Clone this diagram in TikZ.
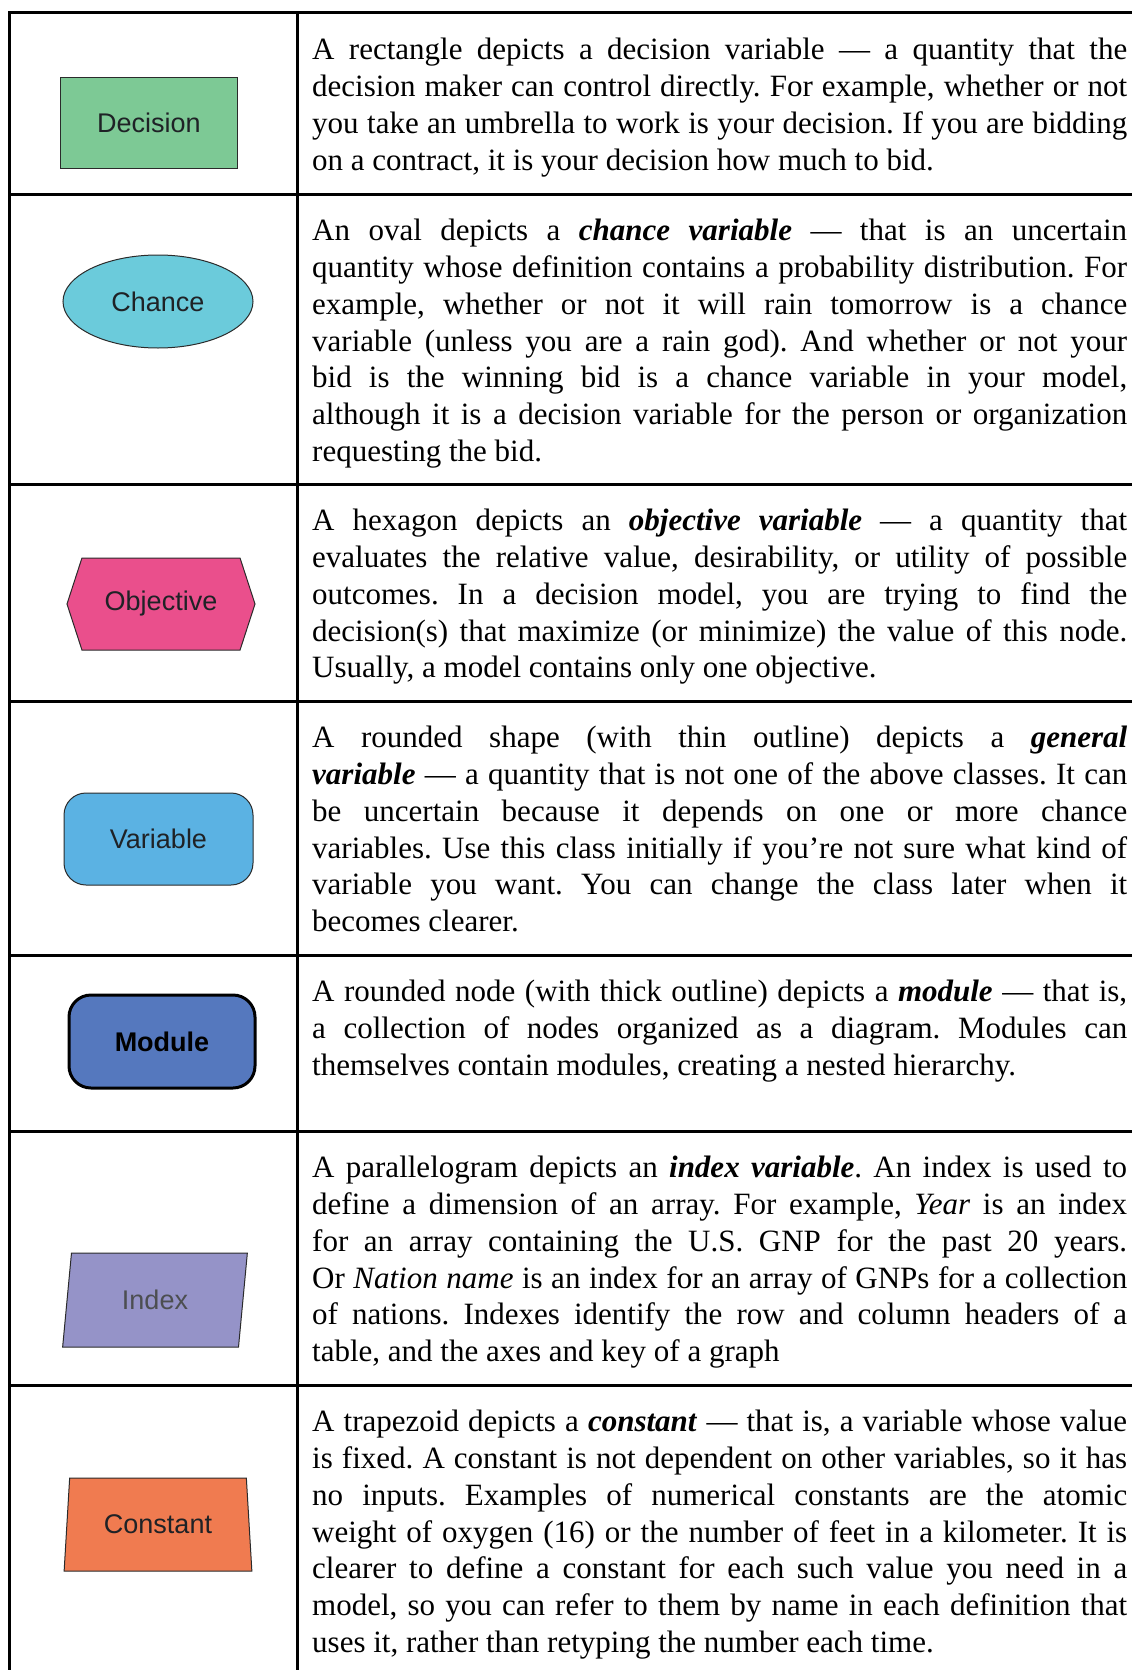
\documentclass[tikz,border=0pt]{standalone}
\usepackage{fontspec}
\setmainfont{Liberation Serif}
\newfontfamily\labelfont{Liberation Sans}
\usetikzlibrary{shapes.geometric,shapes.symbols}

\definecolor{decisiongreen}{HTML}{7DC995}
\definecolor{chancecyan}{HTML}{6BCBDB}
\definecolor{objectivepink}{HTML}{EA4F8C}
\definecolor{variableblue}{HTML}{5BB2E3}
\definecolor{moduleblue}{HTML}{5578BE}
\definecolor{indexviolet}{HTML}{9593C8}
\definecolor{constantorange}{HTML}{F07B50}
\definecolor{edgegrey}{HTML}{2B2B2B}
\definecolor{labelgrey}{HTML}{1F2226}

\frenchspacing
\hyphenpenalty=10000
\tolerance=10000

\begin{document}
\begin{tikzpicture}[x=1pt, y=-1pt,
	rule/.style={line width=3pt, line cap=rect},
	kind/.style={draw=edgegrey, line width=1pt, inner sep=0pt, text=labelgrey, font=\labelfont\fontsize{27}{30}\selectfont},
	desc/.style={anchor=north west, inner sep=0pt, text width=815pt, align=justify, font=\fontsize{31}{36.8}\selectfont}]
	\useasboundingbox (0,0) rectangle (1132,1670);
	\draw[rule] (9,1670) -- (9,13) -- (1132,13);
	\draw[rule] (297,13) -- (297,1670);
	\foreach \y in {194,484,701,955,1131,1385}
		\draw[rule] (9,\y) -- (1132,\y);

	\node[kind, rectangle, fill=decisiongreen, minimum width=177pt, minimum height=91pt] (decision) at (149,123) {Decision};
	\node[kind, ellipse, fill=chancecyan, minimum width=190pt, minimum height=93pt] (chance) at (158,301.5) {Chance};
	\node[kind, signal, signal to=east and west, signal pointer angle=144, fill=objectivepink, minimum width=188pt, minimum height=92pt] (objective) at (161,604) {Objective};
	\node[kind, rectangle, rounded corners=22pt, fill=variableblue, minimum width=189pt, minimum height=92pt] (variable) at (158.5,839) {Variable};
	\node[kind, rectangle, rounded corners=22pt, draw=black, line width=3pt, text=black, font=\labelfont\bfseries\fontsize{27}{30}\selectfont, fill=moduleblue, minimum width=186pt, minimum height=93pt] (module) at (162,1041.5) {Module};
	\node[kind, trapezium, trapezium left angle=80, trapezium right angle=100, trapezium stretches=true, fill=indexviolet, text=labelgrey!80, minimum width=186pt, minimum height=94pt] (index) at (155,1300) {Index};
	\node[kind, trapezium, trapezium left angle=80, trapezium right angle=80, trapezium stretches=true, fill=constantorange, minimum width=188pt, minimum height=93pt] (constant) at (158,1524.5) {Constant};

	\node[desc] (decisiontext) at (312,38) {A rectangle depicts a decision variable — a quantity that the\linebreak
		decision maker can control directly. For example, whether or not\linebreak
		you take an umbrella to work is your decision. If you are bidding\linebreak
		on a contract, it is your decision how much to bid.};
	\node[desc] (chancetext) at (312,219) {An oval depicts a \textbf{\textit{chance variable}} — that is an uncertain\linebreak
		quantity whose definition contains a probability distribution. For\linebreak
		example, whether or not it will rain tomorrow is a chance\linebreak
		variable (unless you are a rain god). And whether or not your\linebreak
		bid is the winning bid is a chance variable in your model,\linebreak
		although it is a decision variable for the person or organization\linebreak
		requesting the bid.};
	\node[desc] (objectivetext) at (312,509) {A hexagon depicts an \textbf{\textit{objective variable}} — a quantity that\linebreak
		evaluates the relative value, desirability, or utility of possible\linebreak
		outcomes. In a decision model, you are trying to find the\linebreak
		decision(s) that maximize (or minimize) the value of this node.\linebreak
		Usually, a model contains only one objective.};
	\node[desc] (variabletext) at (312,726) {A rounded shape (with thin outline) depicts a \textbf{\textit{general}}\linebreak
		\textbf{\textit{variable}} — a quantity that is not one of the above classes. It can\linebreak
		be uncertain because it depends on one or more chance\linebreak
		variables. Use this class initially if you’re not sure what kind of\linebreak
		variable you want. You can change the class later when it\linebreak
		becomes clearer.};
	\node[desc] (moduletext) at (312,980) {A rounded node (with thick outline) depicts a \textbf{\textit{module}} — that is,\linebreak
		a collection of nodes organized as a diagram. Modules can\linebreak
		themselves contain modules, creating a nested hierarchy.};
	\node[desc] (indextext) at (312,1156) {A parallelogram depicts an \textbf{\textit{index variable}}. An index is used to\linebreak
		define a dimension of an array. For example, \textit{Year} is an index\linebreak
		for an array containing the U.S. GNP for the past 20 years.\linebreak
		Or \textit{Nation name} is an index for an array of GNPs for a collection\linebreak
		of nations. Indexes identify the row and column headers of a\linebreak
		table, and the axes and key of a graph};
	\node[desc] (constanttext) at (312,1410) {A trapezoid depicts a \textbf{\textit{constant}} — that is, a variable whose value\linebreak
		is fixed. A constant is not dependent on other variables, so it has\linebreak
		no inputs. Examples of numerical constants are the atomic\linebreak
		weight of oxygen (16) or the number of feet in a kilometer. It is\linebreak
		clearer to define a constant for each such value you need in a\linebreak
		model, so you can refer to them by name in each definition that\linebreak
		uses it, rather than retyping the number each time.};
\end{tikzpicture}
\end{document}
